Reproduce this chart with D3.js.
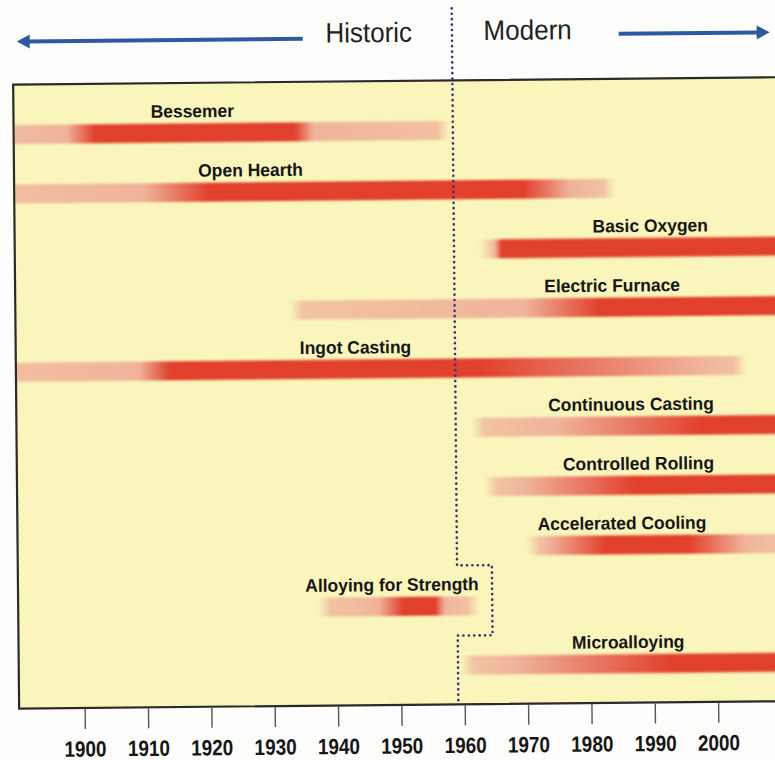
<!DOCTYPE html>
<html>
<head>
<meta charset="utf-8">
<script src="https://cdn.jsdelivr.net/npm/d3@7"></script>
<style>
  html, body { margin: 0; padding: 0; background: #fdfdfb; }
  svg { display: block; }
  .narrow { transform-box: fill-box; transform-origin: center; }
</style>
</head>
<body>
<svg id="chart" width="775" height="760"></svg>
<script>
// ---------------- DATA ----------------
const processes = ["Bessemer", "Open Hearth", "Basic Oxygen", "Electric Furnace", "Ingot Casting",
  "Continuous Casting", "Controlled Rolling", "Accelerated Cooling", "Alloying for Strength", "Microalloying"];
// years in which each process is in use (light), ramps up, peaks, ramps down, ends
const startYear     = [1880, 1880, 1965, 1935, 1880, 1963.5, 1965.5, 1972, 1939, 1961.5];
const riseYear      = [1898, 1910, 1965.5, 1970, 1909, 1975, 1970, 1973.5, 1946.5, 1968];
const peakStartYear = [1902.5, 1920.5, 1966.5, 1982, 1914, 1998, 1987.5, 1982.5, 1950.5, 1993];
const peakEndYear   = [1934, 1970, 2030, 2030, 1962.5, 2030, 2030, 1995.5, 1955.5, 2030];
const fallYear      = [1937, 1977.5, 2030, 2030, 1997.5, 2030, 2030, 2004.5, 1957, 2030];
const endYear       = [1956.5, 1982.5, 2030, 2030, 2003, 2030, 2030, 2010, 1960.5, 2030];
const labelYear     = [1917.9, 1927, 1990, 1983.9, 1943.3, 1986.7, 1987.8, 1985.1, 1948.7, 1985.9];
const tickYears     = [1900, 1910, 1920, 1930, 1940, 1950, 1960, 1970, 1980, 1990, 2000];
const eraLabels     = ["Historic", "Modern"];
const eraBoundaryYear = 1959;
const eraNotchYear    = 1964.5;

// ---------------- LAYOUT ----------------
const svg = d3.select("#chart");
const g = svg.append("g").attr("transform", "rotate(-0.55, 387, 380)");

const panel = { left: 16, top: 81, right: 810, bottom: 705 };
const x = d3.scaleLinear().domain([1900, 2000]).range([81.5, 715]);
const y = d3.scalePoint().domain(processes).range([131, 666]);
const barH = 19;
const font = "'Liberation Sans', Arial, sans-serif";

const defs = svg.append("defs");
defs.append("clipPath").attr("id", "panelClip")
  .append("rect").attr("x", panel.left + 1).attr("y", panel.top)
  .attr("width", panel.right - panel.left).attr("height", panel.bottom - panel.top);
const blur = defs.append("filter").attr("id", "soft").attr("x", "-5%").attr("y", "-30%")
  .attr("width", "110%").attr("height", "160%");
blur.append("feGaussianBlur").attr("stdDeviation", 0.9);

// panel background
g.append("rect")
  .attr("x", panel.left).attr("y", panel.top)
  .attr("width", panel.right - panel.left).attr("height", panel.bottom - panel.top)
  .attr("fill", "#f9f5bb");

const light = "#f0b39b", red = "#e13f2c";

const bars = g.append("g").attr("clip-path", "url(#panelClip)");
processes.forEach((p, i) => {
  const x0 = x(startYear[i] - 2), x1 = x(endYear[i] + 2);
  const pos = yr => Math.max(0, Math.min(1, (x(yr) - x0) / (x1 - x0)));
  const grad = defs.append("linearGradient").attr("id", "grad" + i)
    .attr("gradientUnits", "userSpaceOnUse")
    .attr("x1", x0).attr("x2", x1).attr("y1", 0).attr("y2", 0);
  const stops = [
    [startYear[i] - 2, light, 0],
    [startYear[i], light, 0.75],
    [riseYear[i], light, 1],
    [peakStartYear[i], red, 1],
    [peakEndYear[i], red, 1],
    [fallYear[i], light, 1],
    [endYear[i], light, 0.8],
    [endYear[i] + 2, light, 0]
  ];
  stops.forEach(s => grad.append("stop")
    .attr("offset", pos(s[0])).attr("stop-color", s[1]).attr("stop-opacity", s[2]));
  bars.append("rect")
    .attr("x", x0).attr("y", y(p) - barH / 2)
    .attr("width", x1 - x0).attr("height", barH)
    .attr("fill", `url(#grad${i})`)
    .attr("filter", "url(#soft)");
});

// bar labels
g.append("g").selectAll("text").data(processes).join("text")
  .attr("class", "narrow")
  .style("transform", "scaleX(0.97)")
  .attr("x", (d, i) => x(labelYear[i]))
  .attr("y", d => y(d) - barH / 2 - 6)
  .attr("text-anchor", "middle")
  .attr("font-family", font)
  .attr("font-weight", "bold")
  .attr("font-size", 18)
  .attr("fill", "#161616")
  .text(d => d);

// panel border
g.append("rect")
  .attr("x", panel.left).attr("y", panel.top)
  .attr("width", panel.right - panel.left).attr("height", panel.bottom - panel.top)
  .attr("fill", "none").attr("stroke", "#2a2a2a").attr("stroke-width", 2.2);

// era boundary dotted line
const yb1 = y("Accelerated Cooling") + barH;
const yb2 = (y("Alloying for Strength") + y("Microalloying")) / 2;
const xb = x(eraBoundaryYear), xn = x(eraNotchYear);
g.append("path")
  .attr("d", `M${xb},9 L${xb},${yb1} L${xn},${yb1} L${xn},${yb2} L${xb},${yb2} L${xb},${panel.bottom}`)
  .attr("fill", "none").attr("stroke", "#33357a").attr("stroke-width", 2.6)
  .attr("stroke-linecap", "round")
  .attr("stroke-dasharray", "0.1,5.3");

// x axis
const axis = d3.axisBottom(x).tickValues(tickYears).tickFormat(d3.format("d"))
  .tickSize(20).tickPadding(12);
const ax = g.append("g").attr("transform", `translate(0,${panel.bottom + 1})`).call(axis);
ax.select(".domain").remove();
ax.selectAll(".tick line").attr("stroke", "#555").attr("stroke-width", 1.4);
ax.selectAll(".tick text")
  .attr("class", "narrow")
  .style("transform", "scaleX(0.86)")
  .attr("font-family", font)
  .attr("font-weight", "bold").attr("font-size", 22).attr("fill", "#161616");

// header: era labels and arrows
const header = g.append("g");
header.append("text").attr("class", "narrow").style("transform", "scaleX(0.93)")
  .attr("x", 372).attr("y", 42).attr("text-anchor", "middle")
  .attr("font-family", font).attr("font-size", 28)
  .attr("fill", "#222").text(eraLabels[0]);
header.append("text").attr("class", "narrow").style("transform", "scaleX(0.93)")
  .attr("x", 531).attr("y", 41).attr("text-anchor", "middle")
  .attr("font-family", font).attr("font-size", 28)
  .attr("fill", "#222").text(eraLabels[1]);

const arrowColor = "#2f58a3";
header.append("line").attr("x1", 30).attr("x2", 306).attr("y1", 38).attr("y2", 38)
  .attr("stroke", arrowColor).attr("stroke-width", 4);
header.append("path").attr("d", "M20,38 L33,31 L33,45 Z").attr("fill", arrowColor);
header.append("line").attr("x1", 622).attr("x2", 762).attr("y1", 36).attr("y2", 36)
  .attr("stroke", arrowColor).attr("stroke-width", 4);
header.append("path").attr("d", "M773,36 L760,29 L760,43 Z").attr("fill", arrowColor);
</script>
</body>
</html>
